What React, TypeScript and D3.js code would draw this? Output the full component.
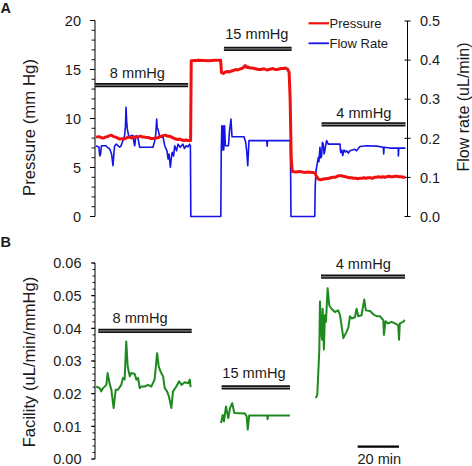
import React from "react";
import * as d3 from "d3";

// ---------- DATA ----------
// time in minutes, pressure in mmHg
const pressure: [number, number][] = [
  [0.5, 8.1], [2, 8.15], [3, 8.05], [4, 8.0], [5, 8.1], [6, 8.15], [7, 8.25], [8, 8.3], [9, 8.15], [10, 8.1],
  [11, 8.0], [12, 7.9], [13, 7.95], [14, 7.9], [15, 8.0], [16, 8.1], [17, 8.05], [18, 8.0], [19, 8.1], [20, 8.1],
  [21, 8.15], [22, 8.2], [23, 8.1], [24, 8.1], [25, 8.05], [26, 8.05], [27, 7.95], [28, 7.95], [29, 8.0], [30, 8.0],
  [31, 8.1], [32, 8.2], [33, 8.25], [34, 8.3], [35, 8.2], [36, 8.2], [37, 8.1], [38, 8.0], [39, 7.9], [40, 7.85],
  [41, 7.9], [42, 7.8], [43, 7.75], [44, 7.8], [45, 7.75], [46.2, 7.75],
  [46.5, 15.9], [50, 15.95], [55, 15.9], [58, 15.95], [60.7, 15.95],
  [61.1, 14.7], [62, 14.6], [63, 14.75], [64, 14.8], [65, 14.75], [66, 14.85], [67, 14.9], [68, 15.0], [69, 14.95],
  [70, 15.05], [71, 15.1], [72, 15.25], [72.6, 15.4], [73.5, 15.2], [74, 15.25], [75, 15.15], [76, 15.15], [77, 15.1],
  [78, 15.05], [79, 15.0], [80, 15.0], [81, 15.05], [82, 15.05], [83, 14.95], [84, 15.0], [85, 15.05], [86, 15.1],
  [87, 15.0], [88, 15.0], [89, 15.05], [90, 15.1], [91, 15.1], [92, 15.15], [93, 15.05], [93.8, 14.7], [94.3, 12],
  [94.8, 6], [95.3, 4.6],
  [97, 4.55], [99, 4.6], [101, 4.5], [103, 4.55], [105, 4.5], [106.3, 4.45], [107, 4.1], [108, 3.8], [109, 3.75],
  [110, 3.8], [111, 3.85], [112, 3.85], [113, 3.9], [114, 3.95], [115, 4.0], [116, 4.0], [117, 4.1], [118, 4.15],
  [119, 4.15], [120, 4.1], [121, 4.05], [122, 4.0], [123, 3.95], [124, 3.95], [125, 3.9], [126, 3.9], [127, 3.85],
  [128, 3.9], [129, 3.9], [130, 3.95], [131, 3.9], [132, 3.95], [133, 3.95], [134, 3.9], [135, 4.0], [136, 4.0],
  [137, 4.05], [138, 4.0], [139, 4.05], [140, 4.0], [141, 4.05], [142, 4.1], [143, 4.05], [144, 4.05], [145, 4.1],
  [146, 4.1], [147, 4.05], [148, 4.05], [149, 4.0], [150, 4.0],
];

// time in minutes, flow rate in uL/min
const flowRate: [number, number][] = [
  [0.5, 0.181], [1.9, 0.177], [2.3, 0.155], [2.7, 0.16], [3.1, 0.181], [5.3, 0.181], [6, 0.177], [7.1, 0.173],
  [8.0, 0.16], [8.7, 0.13], [9.2, 0.165], [9.5, 0.181], [10.3, 0.185], [11.9, 0.177], [12.5, 0.18], [13.2, 0.19],
  [14.3, 0.207], [14.7, 0.23], [15, 0.279], [15.3, 0.245], [15.6, 0.224], [16.4, 0.203], [17.5, 0.207], [18.4, 0.207],
  [18.8, 0.19], [19.2, 0.181], [19.6, 0.2], [20, 0.207], [20.8, 0.2], [21.6, 0.177], [28, 0.177], [28.7, 0.19],
  [29.3, 0.207], [29.6, 0.23], [29.8, 0.249], [30.1, 0.225], [30.4, 0.224], [31.3, 0.203], [32.9, 0.203],
  [33.7, 0.181], [34.8, 0.168], [35.3, 0.147], [35.8, 0.16], [36.4, 0.126], [36.9, 0.15], [37.3, 0.164],
  [38.0, 0.155], [38.5, 0.181], [39.4, 0.168], [40.1, 0.185], [41.2, 0.177], [42.0, 0.182], [42.5, 0.185],
  [43.2, 0.174], [44.1, 0.181], [45.0, 0.178], [45.7, 0.185], [46.1, 0.18], [46.3, 0], [60.8, 0],
  [61.0, 0.168], [61.3, 0.232], [61.5, 0.17], [61.8, 0.232], [62.2, 0.17], [62.6, 0.232], [63, 0.181],
  [64.5, 0.181], [65, 0.219], [65.7, 0.249], [66.2, 0.204], [72, 0.204], [72.8, 0.19], [73.3, 0.168],
  [73.8, 0.13], [74.1, 0.16], [74.4, 0.194], [83, 0.194], [83.2, 0.18], [83.4, 0.194], [94.4, 0.194], [94.7, 0],
  [106.2, 0], [106.4, 0.075], [106.8, 0.117], [107.9, 0.151], [108.2, 0.14], [108.7, 0.177], [109.1, 0.15],
  [109.5, 0.155], [109.9, 0.19], [110.3, 0.185], [110.7, 0.16], [111.1, 0.17], [111.9, 0.194], [112.7, 0.185],
  [118.4, 0.185], [118.7, 0.164], [119.2, 0.17], [119.7, 0.156], [120.3, 0.17], [121, 0.165], [121.6, 0.168],
  [122.4, 0.162], [123.2, 0.168], [125.6, 0.172], [126.4, 0.168], [128, 0.179], [131.3, 0.181], [136.1, 0.18],
  [139.3, 0.177], [139.5, 0.16], [139.7, 0.177], [142.5, 0.175], [146.5, 0.175], [146.6, 0.155], [146.8, 0.175],
  [150, 0.175],
];

// facility in uL/min/mmHg, one array per pressure step
const facility8: [number, number][] = [
  [0.6, 0.0222], [2.3, 0.0217], [3, 0.0207], [3.9, 0.0217], [5.5, 0.0227], [6.1, 0.0263], [7.1, 0.023],
  [7.9, 0.0212], [9, 0.0156], [10, 0.0212], [11.1, 0.0212], [12.7, 0.0227], [13.5, 0.0248], [14.3, 0.0243],
  [15.1, 0.036], [15.8, 0.0283], [16.8, 0.0253], [17.5, 0.0263], [19.2, 0.026], [20, 0.0243], [20.8, 0.0248],
  [21.6, 0.0217], [22.4, 0.0222], [24, 0.0222], [25.6, 0.0227], [27.2, 0.0222], [28.8, 0.0243], [30, 0.0324],
  [30.8, 0.0283], [32, 0.0263], [32.9, 0.0253], [33.7, 0.0217], [34.8, 0.0207], [35.7, 0.0192], [36.9, 0.0156],
  [37.7, 0.0207], [39.3, 0.0222], [40.6, 0.0238], [41.8, 0.0227], [43.4, 0.0235], [45, 0.0232], [45.8, 0.0243],
  [46.2, 0.022],
];
const facility15: [number, number][] = [
  [60.9, 0.011], [61.7, 0.0135], [62.3, 0.0115], [63.3, 0.0161], [64.4, 0.0125], [65.2, 0.0155], [66.3, 0.0171],
  [67.3, 0.0141], [72.5, 0.0139], [73.3, 0.013], [73.8, 0.009], [74.5, 0.0133], [83.2, 0.0133], [83.4, 0.0122],
  [83.6, 0.0133], [94.2, 0.0133],
];
const facility4: [number, number][] = [
  [106.6, 0.0187], [107.4, 0.0195], [108.4, 0.0335], [108.7, 0.0482], [109.2, 0.0396], [109.7, 0.0365],
  [110, 0.046], [110.6, 0.0335], [111.1, 0.044], [111.6, 0.042], [112.4, 0.0523], [113.2, 0.047], [114.3, 0.046],
  [115.9, 0.045], [117.5, 0.0455], [118.4, 0.044], [119.2, 0.0405], [120, 0.037], [121.6, 0.039], [122.4, 0.0402],
  [123.2, 0.0437], [124, 0.043], [125.6, 0.0434], [126.4, 0.046], [127.2, 0.0437], [128.8, 0.044], [130.1, 0.0488],
  [130.9, 0.0455], [132.9, 0.0453], [134.5, 0.0443], [136.1, 0.0437], [137.7, 0.0437], [139.3, 0.0425],
  [139.6, 0.038], [140.4, 0.0422], [141.7, 0.0415], [143.3, 0.042], [144.9, 0.0415], [146.5, 0.041],
  [146.9, 0.0365], [147.3, 0.0415], [148.9, 0.042], [149.7, 0.0426],
];

// pressure-step annotations: label, start, end (min), level, label centre (min)
const stepLabels = ["8 mmHg", "15 mmHg", "4 mmHg"];
const barsA: [number, number, number, number][] = [
  [0, 45, 13.4, 20.5], [62.3, 95, 17.1, 78.2], [109.5, 150, 9.4, 129.9],
];
const barsB: [number, number, number, number][] = [
  [1.6, 46.7, 0.0392, 21.8], [61.2, 94.2, 0.0219, 76.8], [109.2, 149.8, 0.0558, 129.6],
];
const scaleBarMin = [126.9, 146.9];

const pressureTicks = [0, 5, 10, 15, 20];
const flowTicks = [0, 0.1, 0.2, 0.3, 0.4, 0.5];
const facilityTicks = [0, 0.01, 0.02, 0.03, 0.04, 0.05, 0.06];

// ---------- CHART ----------
const FONT = "'Liberation Sans', Arial, Helvetica, sans-serif";
const TXT = "#1a1a1a";

export default function App() {
  const x = d3.scaleLinear().domain([0, 151]).range([95, 407.5]);
  const yP = d3.scaleLinear().domain([0, 20]).range([216.5, 20.5]);
  const yF = d3.scaleLinear().domain([0, 0.5]).range([216.5, 21]);
  const yC = d3.scaleLinear().domain([0, 0.06]).range([459, 263]);

  const lineP = d3.line<[number, number]>().x((d) => x(d[0])).y((d) => yP(d[1]));
  const lineF = d3.line<[number, number]>().x((d) => x(d[0])).y((d) => yF(d[1]));
  const lineC = d3.line<[number, number]>().x((d) => x(d[0])).y((d) => yC(d[1]));

  const minorP = d3.range(0, 20.001, 1);
  const minorC = d3.range(0, 0.0601, 0.002);

  const bar = (x1: number, x2: number, y: number, key: string) => (
    <g key={key}>
      <line x1={x1} x2={x2} y1={y} y2={y} stroke="#111" strokeWidth={4.2} />
      <line x1={x1} x2={x2} y1={y} y2={y} stroke="#9a9a9a" strokeWidth={1} />
    </g>
  );

  return (
    <svg width={472} height={466} style={{ position: "absolute", left: 0, top: 0, background: "#fff" }} fontFamily={FONT}>
      <rect width={472} height={466} fill="#fff" />
      {/* Panel letters */}
      <text x={0.5} y={12.7} fontSize={14.5} fontWeight="bold" fill={TXT}>A</text>
      <text x={0.5} y={246.5} fontSize={14.5} fontWeight="bold" fill={TXT}>B</text>

      {/* ---- Panel A ---- */}
      <line x1={95} x2={95} y1={yP(20)} y2={yP(0)} stroke="#000" />
      {minorP.map((v) => (
        <line key={"mp" + v} x1={91.5} x2={95} y1={yP(v)} y2={yP(v)} stroke="#000" strokeWidth={0.9} />
      ))}
      {pressureTicks.map((v) => (
        <g key={"tp" + v}>
          <line x1={90} x2={95} y1={yP(v)} y2={yP(v)} stroke="#000" />
          <text x={81} y={yP(v)} dy="0.36em" textAnchor="end" fontSize={14.5} fill={TXT}>{v}</text>
        </g>
      ))}
      <text transform={`translate(35,${(yP(0) + yP(20)) / 2 + 9}) rotate(-90)`} textAnchor="middle" fontSize={16.8} fill={TXT}>
        Pressure (mm Hg)
      </text>

      <line x1={407.5} x2={407.5} y1={yF(0.5)} y2={yF(0)} stroke="#000" />
      {flowTicks.map((v) => (
        <g key={"tf" + v}>
          <line x1={404.5} x2={410.5} y1={yF(v)} y2={yF(v)} stroke="#000" />
          <text x={420} y={yF(v)} dy="0.36em" fontSize={14.5} fill={TXT}>{d3.format(".1f")(v)}</text>
        </g>
      ))}
      <text transform={`translate(469,107) rotate(-90)`} textAnchor="middle" fontSize={16} fill={TXT}>
        Flow rate (uL/min)
      </text>

      <path d={lineF(flowRate) || ""} fill="none" stroke="#1414e6" strokeWidth={1.6} strokeLinejoin="round" />
      <path d={lineP(pressure) || ""} fill="none" stroke="#f01010" strokeWidth={3} strokeLinejoin="round" />

      {barsA.map((b, i) => (
        <g key={"ba" + i}>
          {bar(x(b[0]), x(b[1]), yP(b[2]), "bar" + i)}
          <text x={x(b[3])} y={yP(b[2]) - (i === 1 ? 9.5 : 6.8)} textAnchor="middle" fontSize={14.6} fill={TXT}>
            {stepLabels[i]}
          </text>
        </g>
      ))}

      {/* legend */}
      <line x1={308.5} x2={329} y1={23.3} y2={23.3} stroke="#f01010" strokeWidth={2.2} />
      <text x={329.5} y={27.9} fontSize={13} fill={TXT}>Pressure</text>
      <line x1={308.5} x2={329} y1={43.3} y2={43.3} stroke="#1414e6" strokeWidth={1.8} />
      <text x={329.5} y={47.9} fontSize={13} fill={TXT}>Flow Rate</text>

      {/* ---- Panel B ---- */}
      <line x1={95} x2={95} y1={yC(0.06)} y2={yC(0)} stroke="#000" />
      {minorC.map((v, i) => (
        <line key={"mc" + i} x1={92.5} x2={95} y1={yC(v)} y2={yC(v)} stroke="#000" strokeWidth={0.9} />
      ))}
      {facilityTicks.map((v) => (
        <g key={"tc" + v}>
          <line x1={91} x2={95} y1={yC(v)} y2={yC(v)} stroke="#000" />
          <text x={81.5} y={yC(v)} dy="0.36em" textAnchor="end" fontSize={14.5} fill={TXT}>{d3.format(".2f")(v)}</text>
        </g>
      ))}
      <text transform={`translate(35,362) rotate(-90)`} textAnchor="middle" fontSize={16.6} fill={TXT}>
        Facility (uL/min/mmHg)
      </text>

      {[facility8, facility15, facility4].map((s, i) => (
        <path key={"fc" + i} d={lineC(s) || ""} fill="none" stroke="#1e8a1e" strokeWidth={2} strokeLinejoin="round" />
      ))}

      {barsB.map((b, i) => (
        <g key={"bb" + i}>
          {bar(x(b[0]), x(b[1]), yC(b[2]), "barb" + i)}
          <text x={x(b[3])} y={yC(b[2]) - (i === 1 ? 9 : 7.5)} textAnchor="middle" fontSize={14.6} fill={TXT}>
            {stepLabels[i]}
          </text>
        </g>
      ))}

      {/* scale bar */}
      <line x1={x(scaleBarMin[0])} x2={x(scaleBarMin[1])} y1={446.7} y2={446.7} stroke="#000" strokeWidth={2.2} />
      <text x={(x(scaleBarMin[0]) + x(scaleBarMin[1])) / 2 + 1} y={463.5} textAnchor="middle" fontSize={14.6} fill={TXT}>
        20 min
      </text>
    </svg>
  );
}
